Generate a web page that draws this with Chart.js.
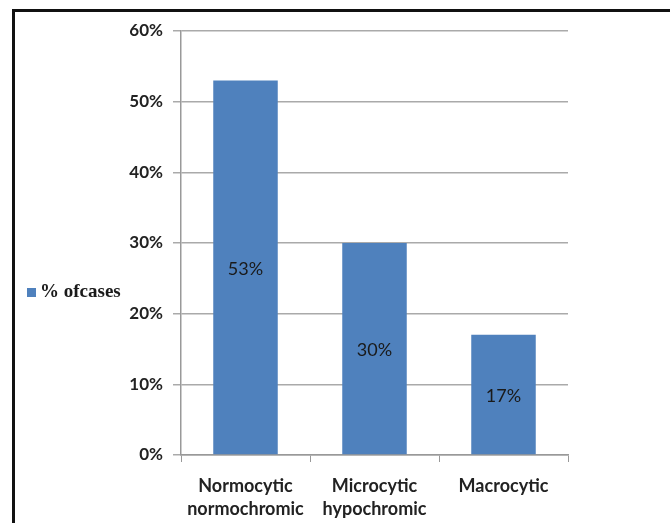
<!DOCTYPE html>
<html>
<head>
<meta charset="utf-8">
<script src="https://cdn.jsdelivr.net/npm/chart.js@4.4.1/dist/chart.umd.min.js"></script>
<style>
  html, body { margin: 0; padding: 0; background: #fff; }
  #wrap { position: relative; width: 670px; height: 523px; overflow: hidden; }
  #frame { position: absolute; left: 12px; top: 9px; width: 700px; height: 560px;
           border: 3px solid #111; box-sizing: border-box; pointer-events: none; }
  canvas { position: absolute; left: 0; top: 0; }
</style>
</head>
<body>
<div id="wrap">
  <canvas id="c" width="670" height="523"></canvas>
  <div id="frame"></div>
</div>
<script>
// Anaemia morphology breakdown
const categories = [["Normocytic", "normochromic"], ["Microcytic", "hypochromic"], ["Macrocytic"]];
const seriesName = "% ofcases";
const percentCases = [53, 30, 17];
const yTicks = [0, 10, 20, 30, 40, 50, 60];

const sansFont = "Lato, 'Open Sans', 'Liberation Sans', sans-serif";
const serifFont = "'Liberation Serif', 'DejaVu Serif', serif";

// Value labels centred inside each bar
const barLabels = {
  id: "barLabels",
  afterDatasetsDraw(chart) {
    const ctx = chart.ctx;
    const meta = chart.getDatasetMeta(0);
    ctx.save();
    ctx.font = "18px " + sansFont;
    ctx.fillStyle = "#1a1a1a";
    ctx.textAlign = "center";
    ctx.textBaseline = "middle";
    meta.data.forEach((bar, i) => {
      const v = chart.data.datasets[0].data[i];
      ctx.fillText(v + "%", bar.x, (bar.y + bar.base) / 2 + 2);
    });
    ctx.restore();
  }
};

// Legend entry on the left side
const sideLegend = {
  id: "sideLegend",
  afterDraw(chart) {
    const ctx = chart.ctx;
    const ds = chart.data.datasets[0];
    ctx.save();
    ctx.fillStyle = ds.backgroundColor;
    ctx.fillRect(27, 288, 9, 9);
    ctx.font = "bold 19px " + serifFont;
    ctx.fillStyle = "#1a1a1a";
    ctx.textBaseline = "middle";
    ctx.textAlign = "left";
    ctx.fillText(ds.label, 40, 292);
    ctx.restore();
  }
};

new Chart(document.getElementById("c"), {
  type: "bar",
  data: {
    labels: categories,
    datasets: [{
      label: seriesName,
      data: percentCases,
      backgroundColor: "#4F81BD",
      borderWidth: 0,
      barPercentage: 0.5,
      categoryPercentage: 1.0
    }]
  },
  options: {
    responsive: false,
    animation: false,
    devicePixelRatio: 1,
    layout: { padding: { left: 121, right: 102, top: 31, bottom: 0 } },
    plugins: { legend: { display: false }, tooltip: { enabled: false } },
    scales: {
      x: {
        offset: true,
        grid: { display: true, drawOnChartArea: false, drawTicks: true, tickLength: 7, color: "#999", lineWidth: 1 },
        border: { display: true, color: "#999", width: 1.5 },
        ticks: {
          color: "#222",
          font: { family: sansFont, size: 18, weight: "bold", lineHeight: 1.28 },
          padding: 13,
          maxRotation: 0, autoSkip: false
        },
        afterFit(scale) { scale.height = 68; }
      },
      y: {
        min: 0, max: 60,
        afterBuildTicks(scale) { scale.ticks = yTicks.map(v => ({ value: v })); },
        grid: { color: "#aaa", lineWidth: 1.5, drawTicks: true, tickLength: 8 },
        border: { display: true, color: "#999", width: 1.5 },
        ticks: {
          color: "#222",
          font: { family: sansFont, size: 17, weight: "bold" },
          padding: 10,
          callback: v => v + "%"
        },
        afterFit(scale) { scale.width = 60; }
      }
    }
  },
  plugins: [barLabels, sideLegend]
});
</script>
</body>
</html>
